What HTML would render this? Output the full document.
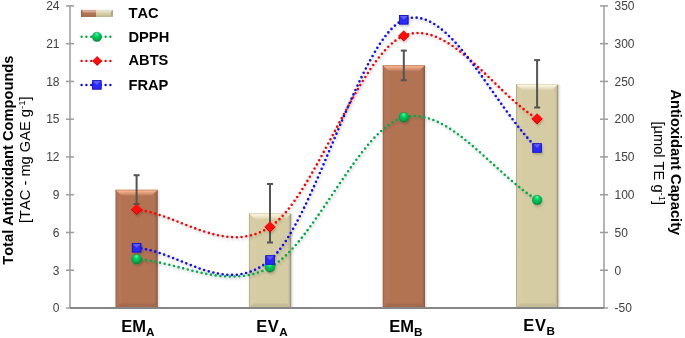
<!DOCTYPE html>
<html><head><meta charset="utf-8"><style>
html,body{margin:0;padding:0;background:#fff;}
svg{display:block;}
text{font-family:"Liberation Sans",Arial,sans-serif;font-kerning:none;}
</style></head><body>
<svg width="685" height="338" viewBox="0 0 685 338">
<defs>
<linearGradient id="g_top" x1="0" y1="0" x2="0" y2="1"><stop offset="0" stop-color="#fff" stop-opacity="0.3"/><stop offset="0.25" stop-color="#fff" stop-opacity="0.5"/><stop offset="1" stop-color="#fff" stop-opacity="0.05"/></linearGradient>
<linearGradient id="g_left" x1="0" y1="0" x2="1" y2="0"><stop offset="0" stop-color="#fff" stop-opacity="0.0"/><stop offset="1" stop-color="#fff" stop-opacity="0.03"/></linearGradient>
<linearGradient id="g_right" x1="0" y1="0" x2="1" y2="0"><stop offset="0" stop-color="#000" stop-opacity="0.0"/><stop offset="0.6" stop-color="#000" stop-opacity="0.1"/><stop offset="1" stop-color="#000" stop-opacity="0.4"/></linearGradient>
<linearGradient id="g_osh" x1="0" y1="0" x2="1" y2="0"><stop offset="0" stop-color="#8088a0" stop-opacity="0.3"/><stop offset="1" stop-color="#8088a0" stop-opacity="0"/></linearGradient>
<linearGradient id="g_top_b" x1="0" y1="0" x2="0" y2="1"><stop offset="0" stop-color="#e6a07a"/><stop offset="0.25" stop-color="#f4b08a"/><stop offset="1" stop-color="#b87858"/></linearGradient>
<linearGradient id="g_top_t" x1="0" y1="0" x2="0" y2="1"><stop offset="0" stop-color="#f0e8c8"/><stop offset="0.25" stop-color="#faf4dc"/><stop offset="1" stop-color="#d9cfa8"/></linearGradient>
<radialGradient id="g_circ" cx="0.45" cy="0.35" r="0.65" fx="0.5" fy="0.18"><stop offset="0" stop-color="#58ffb0"/><stop offset="0.35" stop-color="#00d464"/><stop offset="0.8" stop-color="#00a848"/><stop offset="1" stop-color="#007c34"/></radialGradient>
<filter id="sh" x="-20%" y="-20%" width="140%" height="140%"><feDropShadow dx="1" dy="2" stdDeviation="1" flood-color="#000" flood-opacity="0.18"/></filter>
<linearGradient id="g_leg" x1="0" y1="0" x2="1" y2="0"><stop offset="0" stop-color="#b27353"/><stop offset="0.45" stop-color="#c88a68"/><stop offset="0.55" stop-color="#e6dcb8"/><stop offset="1" stop-color="#d6cca4"/></linearGradient>
</defs>
<rect width="685" height="338" fill="#fff"/>

<rect x="115.50" y="189.80" width="42.20" height="118.20" fill="#b27353"/>
<polygon points="115.50,189.80 121.50,195.80 121.50,304.00 115.50,308.00" fill="url(#g_left)"/>
<polygon points="157.70,189.80 154.20,193.30 154.20,304.50 157.70,308.00" fill="url(#g_right)"/>
<rect x="157.70" y="190.80" width="3" height="117.20" fill="url(#g_osh)"/>
<polygon points="115.50,308.00 157.70,308.00 153.70,303.50 119.50,303.50" fill="#000" fill-opacity="0.07"/>
<polygon points="115.50,189.80 157.70,189.80 151.70,195.80 121.50,195.80" fill="url(#g_top_b)"/>
<rect x="115.50" y="189.80" width="1" height="118.20" fill="#000" fill-opacity="0.14"/>
<rect x="115.50" y="189.80" width="42.20" height="0.8" fill="#000" fill-opacity="0.08"/>
<rect x="248.90" y="213.30" width="42.20" height="94.70" fill="#d6cca4"/>
<polygon points="248.90,213.30 254.90,219.30 254.90,304.00 248.90,308.00" fill="url(#g_left)"/>
<polygon points="291.10,213.30 287.60,216.80 287.60,304.50 291.10,308.00" fill="url(#g_right)"/>
<rect x="291.10" y="214.30" width="3" height="93.70" fill="url(#g_osh)"/>
<polygon points="248.90,308.00 291.10,308.00 287.10,303.50 252.90,303.50" fill="#000" fill-opacity="0.07"/>
<polygon points="248.90,213.30 291.10,213.30 285.10,219.30 254.90,219.30" fill="url(#g_top_t)"/>
<rect x="248.90" y="213.30" width="1" height="94.70" fill="#000" fill-opacity="0.14"/>
<rect x="248.90" y="213.30" width="42.20" height="0.8" fill="#000" fill-opacity="0.08"/>
<rect x="382.70" y="65.20" width="42.20" height="242.80" fill="#b27353"/>
<polygon points="382.70,65.20 388.70,71.20 388.70,304.00 382.70,308.00" fill="url(#g_left)"/>
<polygon points="424.90,65.20 421.40,68.70 421.40,304.50 424.90,308.00" fill="url(#g_right)"/>
<rect x="424.90" y="66.20" width="3" height="241.80" fill="url(#g_osh)"/>
<polygon points="382.70,308.00 424.90,308.00 420.90,303.50 386.70,303.50" fill="#000" fill-opacity="0.07"/>
<polygon points="382.70,65.20 424.90,65.20 418.90,71.20 388.70,71.20" fill="url(#g_top_b)"/>
<rect x="382.70" y="65.20" width="1" height="242.80" fill="#000" fill-opacity="0.14"/>
<rect x="382.70" y="65.20" width="42.20" height="0.8" fill="#000" fill-opacity="0.08"/>
<rect x="516.00" y="84.10" width="42.20" height="223.90" fill="#d6cca4"/>
<polygon points="516.00,84.10 522.00,90.10 522.00,304.00 516.00,308.00" fill="url(#g_left)"/>
<polygon points="558.20,84.10 554.70,87.60 554.70,304.50 558.20,308.00" fill="url(#g_right)"/>
<rect x="558.20" y="85.10" width="3" height="222.90" fill="url(#g_osh)"/>
<polygon points="516.00,308.00 558.20,308.00 554.20,303.50 520.00,303.50" fill="#000" fill-opacity="0.07"/>
<polygon points="516.00,84.10 558.20,84.10 552.20,90.10 522.00,90.10" fill="url(#g_top_t)"/>
<rect x="516.00" y="84.10" width="1" height="223.90" fill="#000" fill-opacity="0.14"/>
<rect x="516.00" y="84.10" width="42.20" height="0.8" fill="#000" fill-opacity="0.08"/>
<g stroke="#9c9c9c" stroke-width="1.5" fill="none">
<line x1="70.0" y1="5.15" x2="70.0" y2="308.00"/>
<line x1="604.0" y1="5.15" x2="604.0" y2="308.00"/>
<line x1="66.0" y1="308.00" x2="74.0" y2="308.00"/>
<line x1="600.0" y1="308.00" x2="608.0" y2="308.00"/>
<line x1="66.0" y1="270.24" x2="74.0" y2="270.24"/>
<line x1="600.0" y1="270.24" x2="608.0" y2="270.24"/>
<line x1="66.0" y1="232.47" x2="74.0" y2="232.47"/>
<line x1="600.0" y1="232.47" x2="608.0" y2="232.47"/>
<line x1="66.0" y1="194.71" x2="74.0" y2="194.71"/>
<line x1="600.0" y1="194.71" x2="608.0" y2="194.71"/>
<line x1="66.0" y1="156.95" x2="74.0" y2="156.95"/>
<line x1="600.0" y1="156.95" x2="608.0" y2="156.95"/>
<line x1="66.0" y1="119.19" x2="74.0" y2="119.19"/>
<line x1="600.0" y1="119.19" x2="608.0" y2="119.19"/>
<line x1="66.0" y1="81.42" x2="74.0" y2="81.42"/>
<line x1="600.0" y1="81.42" x2="608.0" y2="81.42"/>
<line x1="66.0" y1="43.66" x2="74.0" y2="43.66"/>
<line x1="600.0" y1="43.66" x2="608.0" y2="43.66"/>
<line x1="66.0" y1="5.90" x2="74.0" y2="5.90"/>
<line x1="600.0" y1="5.90" x2="608.0" y2="5.90"/>
</g>
<line x1="70.0" y1="308.00" x2="604.0" y2="308.00" stroke="#868686" stroke-width="2"/>
<g stroke="#545454" stroke-width="2" fill="none">
<line x1="136.60" y1="175.20" x2="136.60" y2="204.00"/>
<line x1="133.60" y1="175.20" x2="139.60" y2="175.20"/>
<line x1="133.60" y1="204.00" x2="139.60" y2="204.00"/>
<line x1="270.00" y1="184.00" x2="270.00" y2="242.50"/>
<line x1="267.00" y1="184.00" x2="273.00" y2="184.00"/>
<line x1="267.00" y1="242.50" x2="273.00" y2="242.50"/>
<line x1="403.80" y1="50.60" x2="403.80" y2="80.30"/>
<line x1="400.80" y1="50.60" x2="406.80" y2="50.60"/>
<line x1="400.80" y1="80.30" x2="406.80" y2="80.30"/>
<line x1="537.10" y1="60.10" x2="537.10" y2="107.50"/>
<line x1="534.10" y1="60.10" x2="540.10" y2="60.10"/>
<line x1="534.10" y1="107.50" x2="540.10" y2="107.50"/>
</g>
<g font-size="12" fill="#404040">
<text x="59.5" y="312.30" text-anchor="end">0</text>
<text x="614.5" y="312.30">-50</text>
<text x="59.5" y="274.54" text-anchor="end">3</text>
<text x="614.5" y="274.54">0</text>
<text x="59.5" y="236.78" text-anchor="end">6</text>
<text x="614.5" y="236.78">50</text>
<text x="59.5" y="199.01" text-anchor="end">9</text>
<text x="614.5" y="199.01">100</text>
<text x="59.5" y="161.25" text-anchor="end">12</text>
<text x="614.5" y="161.25">150</text>
<text x="59.5" y="123.49" text-anchor="end">15</text>
<text x="614.5" y="123.49">200</text>
<text x="59.5" y="85.72" text-anchor="end">18</text>
<text x="614.5" y="85.72">250</text>
<text x="59.5" y="47.96" text-anchor="end">21</text>
<text x="614.5" y="47.96">300</text>
<text x="59.5" y="10.20" text-anchor="end">24</text>
<text x="614.5" y="10.20">350</text>
</g>
<g fill="none" stroke-width="2.6" stroke-linecap="round" stroke-dasharray="0 4.75" filter="url(#sh)">
<path d="M136.60 259.20 C181.07 261.93 225.47 291.05 270.00 267.40 C314.53 243.75 359.28 128.53 403.80 117.30 C448.32 106.07 492.67 172.43 537.10 200.00" stroke="#00aa48"/>
<path d="M136.60 209.40 C181.07 215.23 225.47 255.83 270.00 226.90 C314.53 197.97 359.28 53.82 403.80 35.80 C448.32 17.78 492.67 91.13 537.10 118.80" stroke="#ff0000"/>
<path d="M136.60 247.80 C181.07 251.87 225.47 298.00 270.00 260.00 C314.53 222.00 359.28 38.47 403.80 19.80 C448.32 1.13 492.67 105.27 537.10 148.00" stroke="#0808ff"/>
</g>
<g filter="url(#sh)">
<circle cx="136.60" cy="259.20" r="4.85" fill="url(#g_circ)" stroke="#009040" stroke-width="0.5"/>
<circle cx="270.00" cy="267.40" r="4.85" fill="url(#g_circ)" stroke="#009040" stroke-width="0.5"/>
<circle cx="403.80" cy="117.30" r="4.85" fill="url(#g_circ)" stroke="#009040" stroke-width="0.5"/>
<circle cx="537.10" cy="200.00" r="4.85" fill="url(#g_circ)" stroke="#009040" stroke-width="0.5"/>
<polygon points="136.60,203.80 142.20,209.40 136.60,215.00 131.00,209.40" fill="#ff0d0d"/><polyline points="141.70,209.40 136.60,214.50 131.50,209.40" fill="none" stroke="#c00000" stroke-width="1" stroke-opacity="0.8"/>
<polygon points="270.00,221.30 275.60,226.90 270.00,232.50 264.40,226.90" fill="#ff0d0d"/><polyline points="275.10,226.90 270.00,232.00 264.90,226.90" fill="none" stroke="#c00000" stroke-width="1" stroke-opacity="0.8"/>
<polygon points="403.80,30.20 409.40,35.80 403.80,41.40 398.20,35.80" fill="#ff0d0d"/><polyline points="408.90,35.80 403.80,40.90 398.70,35.80" fill="none" stroke="#c00000" stroke-width="1" stroke-opacity="0.8"/>
<polygon points="537.10,113.20 542.70,118.80 537.10,124.40 531.50,118.80" fill="#ff0d0d"/><polyline points="542.20,118.80 537.10,123.90 532.00,118.80" fill="none" stroke="#c00000" stroke-width="1" stroke-opacity="0.8"/>
<rect x="131.95" y="243.15" width="9.30" height="9.30" fill="#2a2aff"/><polygon points="131.95,243.15 141.25,243.15 138.75,245.65 136.60,247.80 134.45,245.65" fill="#7070ff" opacity="0.75"/><rect x="132.35" y="243.55" width="8.50" height="8.50" fill="none" stroke="#1010b0" stroke-width="0.8"/>
<rect x="265.35" y="255.35" width="9.30" height="9.30" fill="#2a2aff"/><polygon points="265.35,255.35 274.65,255.35 272.15,257.85 270.00,260.00 267.85,257.85" fill="#7070ff" opacity="0.75"/><rect x="265.75" y="255.75" width="8.50" height="8.50" fill="none" stroke="#1010b0" stroke-width="0.8"/>
<rect x="399.15" y="15.15" width="9.30" height="9.30" fill="#2a2aff"/><polygon points="399.15,15.15 408.45,15.15 405.95,17.65 403.80,19.80 401.65,17.65" fill="#7070ff" opacity="0.75"/><rect x="399.55" y="15.55" width="8.50" height="8.50" fill="none" stroke="#1010b0" stroke-width="0.8"/>
<rect x="532.45" y="143.35" width="9.30" height="9.30" fill="#2a2aff"/><polygon points="532.45,143.35 541.75,143.35 539.25,145.85 537.10,148.00 534.95,145.85" fill="#7070ff" opacity="0.75"/><rect x="532.85" y="143.75" width="8.50" height="8.50" fill="none" stroke="#1010b0" stroke-width="0.8"/>
</g>
<rect x="81" y="9.9" width="15.5" height="7" fill="#b27353"/><rect x="96.5" y="9.9" width="16.3" height="7" fill="#d6cca4"/>
<polygon points="81,9.9 112.8,9.9 110.3,12.4 83.5,12.4" fill="#fff" fill-opacity="0.4"/>
<polygon points="81,16.9 112.8,16.9 111.3,15.4 82.5,15.4" fill="#000" fill-opacity="0.12"/>
<polygon points="112.8,9.9 112.8,16.9 111.3,15.4 111.3,11.4" fill="#000" fill-opacity="0.25"/>
<rect x="81" y="9.9" width="0.8" height="7" fill="#000" fill-opacity="0.2"/>
<g fill="none" stroke-width="2.4" stroke-linecap="round" stroke-dasharray="0 4.8">
<line x1="81.6" y1="36.8" x2="112" y2="36.8" stroke="#00aa48"/>
<line x1="81.6" y1="60.9" x2="112" y2="60.9" stroke="#ff0000"/>
<line x1="81.6" y1="85" x2="112" y2="85" stroke="#0808ff"/>
</g>
<g>
<circle cx="96.90" cy="36.90" r="4.7" fill="url(#g_circ)" stroke="#009040" stroke-width="0.5"/>
<polygon points="97.20,56.00 102.10,60.90 97.20,65.80 92.30,60.90" fill="#ff0d0d"/><polyline points="101.60,60.90 97.20,65.30 92.80,60.90" fill="none" stroke="#c00000" stroke-width="1" stroke-opacity="0.8"/>
<rect x="92.20" y="80.25" width="9.30" height="9.30" fill="#2a2aff"/><polygon points="92.20,80.25 101.50,80.25 99.00,82.75 96.85,84.90 94.70,82.75" fill="#7070ff" opacity="0.75"/><rect x="92.60" y="80.65" width="8.50" height="8.50" fill="none" stroke="#1010b0" stroke-width="0.8"/>
</g>
<g font-size="14.67" font-weight="bold" fill="#000">
<text x="128.5" y="17.6">TAC</text>
<text x="128.5" y="41.8">DPPH</text>
<text x="128.5" y="65.4">ABTS</text>
<text x="128.5" y="89.6">FRAP</text>
</g>
<g font-weight="bold" fill="#000">
<text x="121.3" y="331.6" font-size="16.5" letter-spacing="0">EM<tspan font-size="11.7" dy="4.1">A</tspan></text>
<text x="256.3" y="331.6" font-size="16.5" letter-spacing="0.5">EV<tspan font-size="11.7" dy="4.1">A</tspan></text>
<text x="389.3" y="331.6" font-size="16.5" letter-spacing="0">EM<tspan font-size="11.7" dy="4.1">B</tspan></text>
<text x="523.3" y="330.7" font-size="16.5" letter-spacing="0.6">EV<tspan font-size="11.7" dy="4.1">B</tspan></text>
</g>
<g fill="#000">
<text transform="translate(13.3,264.8) rotate(-90)" font-size="14.67" font-weight="bold">Total Antioxidant Compounds</text>
<text transform="translate(30.2,223.0) rotate(-90)" font-size="14.67">[TAC - mg GAE g<tspan font-size="9.6" dy="-5.3">-1</tspan><tspan dy="5.3">]</tspan></text>
<text transform="translate(670.6,89.4) rotate(90)" font-size="14.67" font-weight="bold">Antioxidant Capacity</text>
<text transform="translate(653.5,121.4) rotate(90)" font-size="14.67">[µmol TE g<tspan font-size="9.6" dy="-5.3">-1</tspan><tspan dy="5.3">]</tspan></text>
</g>
</svg>
</body></html>
